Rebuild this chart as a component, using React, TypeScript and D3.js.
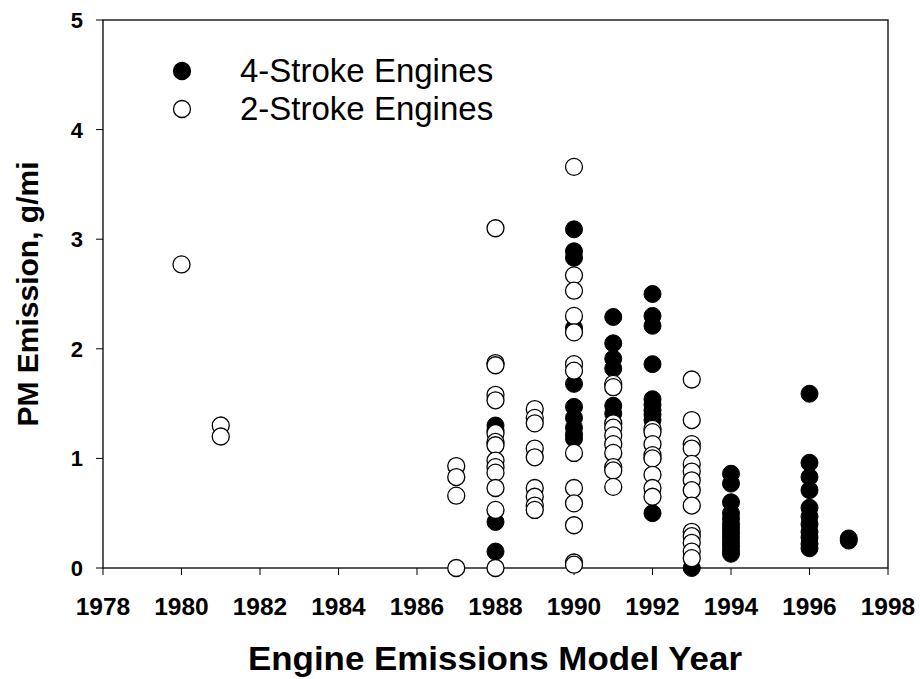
import { useEffect } from "react";
import * as d3 from "d3";

// PM emission (g/mi) by engine model year
const FOUR_STROKE: [number, number][] = [
  [1988, 1.30], [1988, 1.26], [1988, 0.42], [1988, 0.15],
  [1990, 3.09], [1990, 2.89], [1990, 2.83], [1990, 2.19], [1990, 1.68], [1990, 1.47],
  [1990, 1.37], [1990, 1.28], [1990, 1.22], [1990, 1.18],
  [1991, 2.29], [1991, 2.05], [1991, 1.91], [1991, 1.82], [1991, 1.48], [1991, 1.41],
  [1992, 2.50], [1992, 2.30], [1992, 2.21], [1992, 1.86], [1992, 1.54], [1992, 1.49],
  [1992, 1.44], [1992, 1.40], [1992, 1.35], [1992, 1.00], [1992, 0.50],
  [1993, 0.0],
  [1994, 0.86], [1994, 0.77], [1994, 0.60], [1994, 0.50], [1994, 0.45], [1994, 0.40],
  [1994, 0.36], [1994, 0.32], [1994, 0.28], [1994, 0.24], [1994, 0.20], [1994, 0.16], [1994, 0.13],
  [1996, 1.59], [1996, 0.96], [1996, 0.83], [1996, 0.71], [1996, 0.55], [1996, 0.47],
  [1996, 0.40], [1996, 0.33], [1996, 0.28], [1996, 0.22], [1996, 0.18],
  [1997, 0.27], [1997, 0.25],
];

const TWO_STROKE: [number, number][] = [
  [1980, 2.77],
  [1981, 1.30], [1981, 1.20],
  [1987, 0.93], [1987, 0.83], [1987, 0.66], [1987, 0.0],
  [1988, 3.10], [1988, 1.87], [1988, 1.85], [1988, 1.58], [1988, 1.53], [1988, 1.23],
  [1988, 1.15], [1988, 1.12], [1988, 0.98], [1988, 0.92], [1988, 0.87], [1988, 0.73],
  [1988, 0.53], [1988, 0.0],
  [1989, 1.45], [1989, 1.37], [1989, 1.32], [1989, 1.09], [1989, 1.01], [1989, 0.73],
  [1989, 0.65], [1989, 0.57], [1989, 0.53],
  [1990, 3.66], [1990, 2.67], [1990, 2.53], [1990, 2.30], [1990, 2.15], [1990, 1.86],
  [1990, 1.80], [1990, 1.05], [1990, 0.73], [1990, 0.59], [1990, 0.39], [1990, 0.05], [1990, 0.03],
  [1991, 1.68], [1991, 1.65], [1991, 1.32], [1991, 1.28], [1991, 1.21], [1991, 1.13],
  [1991, 1.05], [1991, 0.92], [1991, 0.89], [1991, 0.74],
  [1992, 1.27], [1992, 1.24], [1992, 1.13], [1992, 1.03], [1992, 1.00], [1992, 0.85],
  [1992, 0.73], [1992, 0.65],
  [1993, 1.72], [1993, 1.35], [1993, 1.13], [1993, 1.09], [1993, 0.95], [1993, 0.88],
  [1993, 0.80], [1993, 0.71], [1993, 0.57], [1993, 0.33], [1993, 0.29], [1993, 0.23],
  [1993, 0.15], [1993, 0.09],
];

const X_TICKS = d3.range(1978, 1999, 2);
const Y_TICKS = [0, 1, 2, 3, 4, 5];
const LEGEND = ["4-Stroke Engines", "2-Stroke Engines"];

const W = 920;
const H = 679;
const PLOT = { left: 103, top: 20, right: 888, bottom: 568 };
const R = 8.5;
const FONT = "Liberation Sans, Arial, sans-serif";

export default function App() {
  useEffect(() => {
    document.body.style.margin = "0";
  }, []);

  const x = d3.scaleLinear().domain([1978, 1998]).range([PLOT.left, PLOT.right]);
  const y = d3.scaleLinear().domain([0, 5]).range([PLOT.bottom, PLOT.top]);

  return (
    <svg width={W} height={H} style={{ display: "block", background: "#fff" }} fontFamily={FONT}>
      {/* frame */}
      <rect
        x={PLOT.left}
        y={PLOT.top}
        width={PLOT.right - PLOT.left}
        height={PLOT.bottom - PLOT.top}
        fill="none"
        stroke="#000"
        strokeWidth={1.3}
      />

      {/* x ticks */}
      {X_TICKS.map((t) => (
        <g key={t}>
          <line x1={x(t)} x2={x(t)} y1={PLOT.bottom} y2={PLOT.bottom + 7} stroke="#000" strokeWidth={1} />
          <text x={x(t)} y={615} textAnchor="middle" fontSize={24.5} fontWeight="bold">
            {t}
          </text>
        </g>
      ))}

      {/* y ticks */}
      {Y_TICKS.map((t) => (
        <g key={t}>
          <line x1={PLOT.left - 7} x2={PLOT.left} y1={y(t)} y2={y(t)} stroke="#000" strokeWidth={1} />
          <text x={PLOT.left - 20} y={y(t) + 8} textAnchor="end" fontSize={22} fontWeight="bold">
            {t}
          </text>
        </g>
      ))}

      {/* axis titles */}
      <text
        x={495}
        y={670}
        textAnchor="middle"
        fontSize={33}
        fontWeight="bold"
        textLength={494}
        lengthAdjust="spacingAndGlyphs"
      >
        Engine Emissions Model Year
      </text>
      <text
        transform={`translate(38,${(PLOT.top + PLOT.bottom) / 2}) rotate(-90)`}
        textAnchor="middle"
        fontSize={30}
        fontWeight="bold"
      >
        PM Emission, g/mi
      </text>

      {/* points */}
      {FOUR_STROKE.map(([yr, v], i) => (
        <circle key={`f${i}`} cx={x(yr)} cy={y(v)} r={R} fill="#000" stroke="#000" strokeWidth={1} />
      ))}
      {TWO_STROKE.map(([yr, v], i) => (
        <circle key={`o${i}`} cx={x(yr)} cy={y(v)} r={R} fill="#fff" stroke="#000" strokeWidth={1.3} />
      ))}

      {/* legend */}
      {LEGEND.map((label, i) => (
        <g key={label} transform={`translate(182,${71 + i * 38})`}>
          <circle r={R} fill={i === 0 ? "#000" : "#fff"} stroke="#000" strokeWidth={1.3} />
          <text x={58} y={11} fontSize={33}>
            {label}
          </text>
        </g>
      ))}
    </svg>
  );
}
